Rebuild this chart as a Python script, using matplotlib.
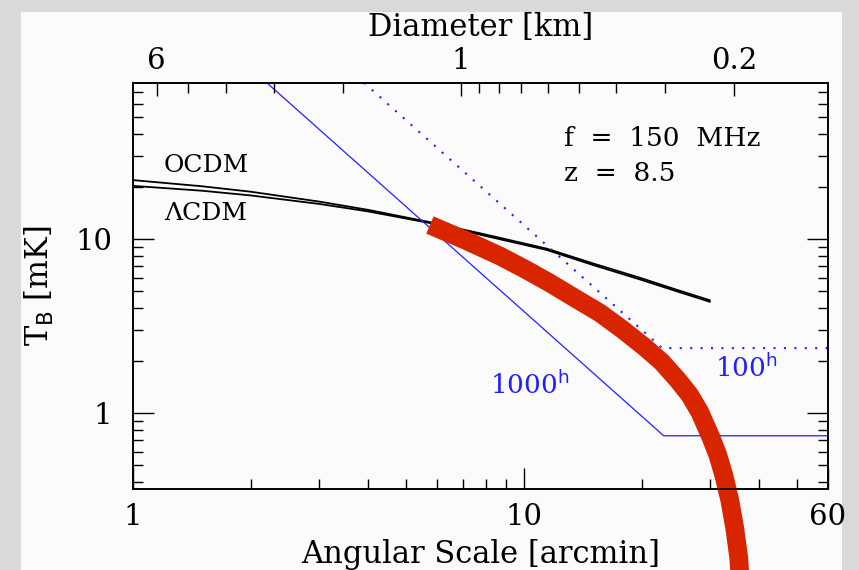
#!/usr/bin/env python3
"""
Brightness temperature vs angular scale, 21cm at z = 8.5
"""

import matplotlib.pyplot as plt
from matplotlib.patches import Rectangle
from matplotlib.ticker import FixedLocator, NullFormatter

# angular scale [arcmin] and T_B [mK] for the two cosmologies
THETA_CDM = [1, 1.5, 2, 3, 4, 5.75, 8, 11.45, 15, 20, 25, 29.9]
T_OCDM = [21.8, 20.1, 18.7, 16.4, 14.7, 12.5, 10.6, 8.8, 7.25, 5.95, 5.05, 4.45]
T_LCDM = [20.2, 18.95, 17.8, 15.9, 14.4, 12.35, 10.4, 8.65, 7.1, 5.82, 4.95, 4.36]

# noise curves (1000 h and 100 h of integration)
THETA_1000H = [2.2, 22.8, 60]
T_1000H = [79, 0.74, 0.74]
THETA_100H = [3.9, 22.6, 60]
T_100H = [79, 2.36, 2.36]

# hand drawn red arc
THETA_RED = [5.75, 7.07, 8.68, 10.06, 11.65, 13.50, 15.65, 17.81, 20.39, 22.54,
             24.77, 26.58, 28.19, 30.08, 31.35, 32.47, 33.64, 34.64, 35.47, 35.89]
T_RED = [12.04, 9.87, 7.99, 6.72, 5.59, 4.58, 3.76, 3.04, 2.39, 1.965,
         1.548, 1.269, 1.013, 0.728, 0.574, 0.440, 0.316, 0.218, 0.147, 0.096]

# top axis: diameter [km]
D_MAJOR = [6, 1, 0.2]
D_MINOR = [5, 4, 3, 2, 0.9, 0.8, 0.7, 0.6, 0.5, 0.4, 0.3]
D_SCALE = 6.9  # theta [arcmin] = D_SCALE / D [km]

FONT = 'DejaVu Serif'
BLUE = '#2020ff'
RED = '#d92400'


def main():
    plt.rcParams['font.family'] = FONT
    fig = plt.figure(figsize=(8.59, 5.70), dpi=100, facecolor='#d9d9d9')
    fig.patches.append(Rectangle((21 / 859, 0), 821 / 859, 558 / 570,
                                 transform=fig.transFigure, facecolor='#fbfbfb',
                                 edgecolor='none', zorder=-5))

    ax = fig.add_axes([133 / 859, 81 / 570, 695 / 859, 406 / 570])
    ax.set_facecolor('#fbfbfb')
    ax.set_xscale('log')
    ax.set_yscale('log')
    ax.set_xlim(1, 60)
    ax.set_ylim(0.366, 78.8)

    ax.plot(THETA_CDM, T_OCDM, color='black', lw=1.3)
    ax.plot(THETA_CDM, T_LCDM, color='black', lw=1.3)
    ax.plot(THETA_1000H, T_1000H, color=BLUE, lw=0.9)
    ax.plot(THETA_100H, T_100H, color=BLUE, lw=1.5, linestyle=(0, (1, 4)))
    ax.plot(THETA_RED, T_RED, color=RED, lw=13.5, clip_on=False, zorder=10,
            solid_capstyle='butt', solid_joinstyle='round')

    ax.text(1.2, 26.6, 'OCDM', fontsize=18, va='center')
    ax.text(1.2, 14.1, 'ΛCDM', fontsize=18, va='center')
    ax.text(12.7, 38, 'f  =  150  MHz', fontsize=19, va='center')
    ax.text(12.7, 23.9, 'z  =  8.5', fontsize=19, va='center')
    ax.text(8.2, 1.45, '1000$^{\\rm h}$', fontsize=19, color=BLUE, va='center')
    ax.text(30.8, 1.81, '100$^{\\rm h}$', fontsize=19, color=BLUE, va='center')

    ax.set_xticks([1, 10, 60])
    ax.set_xticklabels(['1', '10', '60'])
    ax.xaxis.set_minor_locator(FixedLocator([2, 3, 4, 5, 6, 7, 8, 9, 20, 30, 40, 50]))
    ax.xaxis.set_minor_formatter(NullFormatter())
    ax.set_yticks([1, 10])
    ax.set_yticklabels(['1', '10'])
    ax.yaxis.set_minor_locator(FixedLocator(
        [0.4, 0.5, 0.6, 0.7, 0.8, 0.9, 2, 3, 4, 5, 6, 7, 8, 9, 20, 30, 40, 50, 60, 70]))
    ax.yaxis.set_minor_formatter(NullFormatter())
    ax.tick_params(which='both', direction='in', top=False, right=True,
                   labelsize=21, width=1)
    ax.tick_params(which='major', length=15)
    ax.tick_params(which='minor', length=7)
    ax.tick_params(axis='x', pad=10)
    ax.tick_params(axis='y', pad=15)
    ax.set_xlabel('Angular Scale [arcmin]', fontsize=22, labelpad=6)
    ax.set_ylabel('T$_{\\rm B}$ [mK]', fontsize=22, labelpad=14)

    ax2 = ax.twiny()
    ax2.set_xscale('log')
    ax2.set_xlim(D_SCALE / 1, D_SCALE / 60)
    ax2.set_xticks(D_MAJOR)
    ax2.set_xticklabels(['6', '1', '0.2'])
    ax2.xaxis.set_minor_locator(FixedLocator(D_MINOR))
    ax2.xaxis.set_minor_formatter(NullFormatter())
    ax2.tick_params(which='both', direction='in', labelsize=21, width=1, pad=6)
    ax2.tick_params(which='major', length=9)
    ax2.tick_params(which='minor', length=7)
    ax2.set_xlabel('Diameter [km]', fontsize=22, labelpad=8)

    for a in (ax, ax2):
        for s in a.spines.values():
            s.set_linewidth(1.2)

    fig.savefig('out.png', dpi=100, facecolor=fig.get_facecolor())


if __name__ == '__main__':
    main()
